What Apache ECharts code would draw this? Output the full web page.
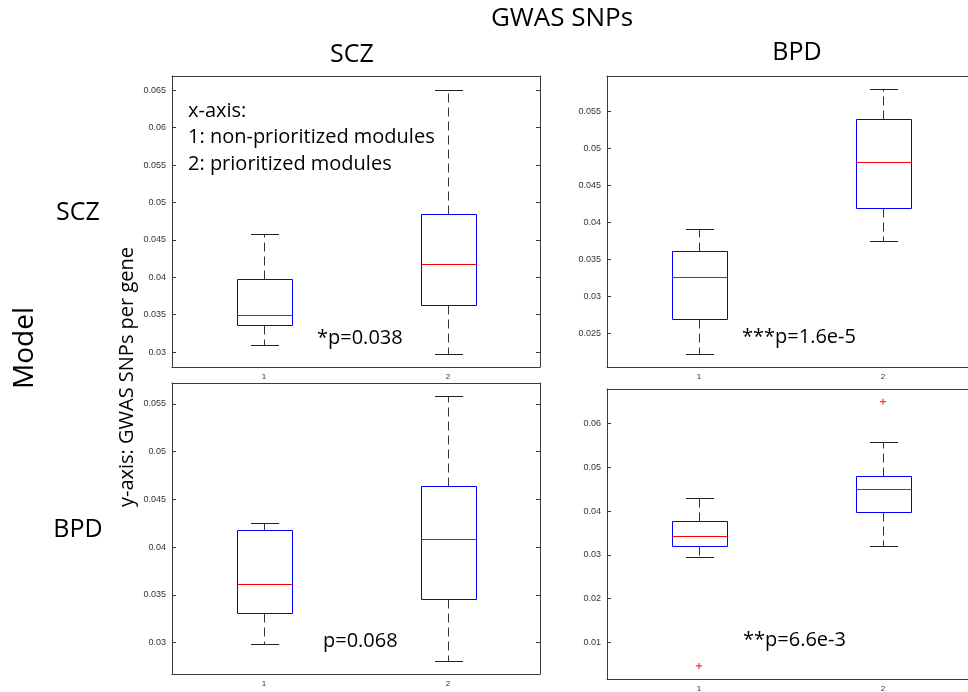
<!DOCTYPE html>
<html>
<head>
<meta charset="utf-8">
<script src="https://cdn.jsdelivr.net/npm/echarts@6/dist/echarts.min.js"></script>
<style>
html,body{margin:0;padding:0;background:#fff;}
#chart{width:968px;height:692px;}
</style>
</head>
<body>
<div id="chart"></div>
<script>
// ---- data ----
const categories = ['1', '2'];
// each box: [lowerWhisker, Q1, median, Q3, upperWhisker]
const boxSczSczModel = [[0.0309, 0.0336, 0.0350, 0.0397, 0.0458], [0.0297, 0.0363, 0.0418, 0.0484, 0.0650]];
const boxBpdSczModel = [[0.0222, 0.0270, 0.0327, 0.0362, 0.0391], [0.0375, 0.0420, 0.0482, 0.0540, 0.0581]];
const boxSczBpdModel = [[0.0298, 0.0331, 0.0361, 0.0418, 0.0425], [0.0281, 0.0346, 0.0409, 0.0464, 0.0558]];
const boxBpdBpdModel = [[0.0296, 0.0320, 0.0343, 0.0377, 0.0429], [0.0320, 0.0397, 0.0450, 0.0481, 0.0557]];
const outliersBpdBpdModel = [[0, 0.0046], [1, 0.0650]];
const pValues = ['*p=0.038', '***p=1.6e-5', 'p=0.068', '**p=6.6e-3'];
// y axis limits per panel
const yMins = [0.028, 0.0205, 0.0267, 0.0016];
const yMaxs = [0.0669, 0.0598, 0.0572, 0.0679];
const yTickSteps = [0.005, 0.005, 0.005, 0.01];

// ---- layout ----
const grids = [
  {left: 172, top: 76, right: 428, bottom: 325},
  {left: 607, top: 76, right: -7, bottom: 325},
  {left: 172, top: 383, right: 428, bottom: 18},
  {left: 607, top: 389, right: -7, bottom: 13}
];
const boxes = [boxSczSczModel, boxBpdSczModel, boxSczBpdModel, boxBpdBpdModel];

const axisColor = '#3a3a3a';
const labelColor = '#333';

function fmt(step) {
  return function (v) {
    const r = v / step;
    if (Math.abs(r - Math.round(r)) > 1e-6) return '';
    return String(+v.toFixed(4));
  };
}

function geom(api) {
  const xi = api.value(0);
  const band = api.size([1, 0])[0];
  const c = api.coord([xi, api.value(3)]);
  const cx = Math.round(c[0]) + 0.5;
  const yy = idx => Math.round(api.coord([xi, api.value(idx)])[1]) + 0.5;
  return {
    cx: cx, hw: band * 0.15, cw: band * 0.075,
    yLow: yy(1), yQ1: yy(2), yMed: yy(3), yQ3: yy(4), yHigh: yy(5)
  };
}

// four renderers: whiskers (dashed), caps, box, median
const renderers = [
  function (params, api) {
    const g = geom(api);
    return {type: 'group', children: [
      {type: 'line', shape: {x1: g.cx, y1: g.yQ3, x2: g.cx, y2: g.yHigh}, style: {stroke: '#333', lineWidth: 1, lineDash: [9, 5]}},
      {type: 'line', shape: {x1: g.cx, y1: g.yQ1, x2: g.cx, y2: g.yLow}, style: {stroke: '#333', lineWidth: 1, lineDash: [9, 5]}}
    ]};
  },
  function (params, api) {
    const g = geom(api);
    const a = Math.round(g.cx - g.cw), b = Math.round(g.cx + g.cw) + 1;
    return {type: 'group', children: [
      {type: 'line', shape: {x1: a, y1: g.yHigh, x2: b, y2: g.yHigh}, style: {stroke: '#222', lineWidth: 1, lineDash: null}},
      {type: 'line', shape: {x1: a, y1: g.yLow, x2: b, y2: g.yLow}, style: {stroke: '#222', lineWidth: 1, lineDash: null}}
    ]};
  },
  function (params, api) {
    const g = geom(api);
    const x0 = Math.round(g.cx - g.hw) + 0.5, x1 = Math.round(g.cx + g.hw) + 0.5;
    return {type: 'rect', shape: {x: x0, y: g.yQ3, width: x1 - x0, height: g.yQ1 - g.yQ3},
      style: {fill: null, stroke: '#0000ff', lineWidth: 1, lineDash: null}};
  },
  function (params, api) {
    const g = geom(api);
    const x0 = Math.round(g.cx - g.hw) + 0.5, x1 = Math.round(g.cx + g.hw) + 0.5;
    return {type: 'line', shape: {x1: x0, y1: g.yMed, x2: x1, y2: g.yMed},
      style: {stroke: '#ff0000', lineWidth: 1, lineDash: null}};
  }
];

const xAxes = [], yAxes = [], series = [];
grids.forEach((g, i) => {
  xAxes.push({
    gridIndex: i, type: 'category', data: categories, position: 'bottom',
    boundaryGap: true,
    axisLine: {lineStyle: {color: axisColor, width: 1}},
    axisTick: {inside: true, alignWithLabel: true, length: 4, lineStyle: {color: axisColor}},
    axisLabel: {color: labelColor, fontSize: 8, fontFamily: 'Liberation Sans', margin: 6},
    splitLine: {show: false}
  });
  xAxes.push({
    gridIndex: i, type: 'category', data: categories, position: 'top',
    boundaryGap: true,
    axisLine: {lineStyle: {color: axisColor, width: 1}},
    axisTick: {inside: true, alignWithLabel: true, length: 4, lineStyle: {color: axisColor}},
    axisLabel: {show: false},
    splitLine: {show: false}
  });
  const step = yTickSteps[i];
  yAxes.push({
    gridIndex: i, type: 'value', position: 'left',
    min: yMins[i], max: yMaxs[i], splitNumber: 8, minInterval: step, maxInterval: step,
    axisLine: {show: true, lineStyle: {color: axisColor, width: 1}},
    axisTick: {show: true, inside: true, length: 4, lineStyle: {color: axisColor}},
    axisLabel: {color: labelColor, fontSize: 9, fontFamily: 'Liberation Sans', margin: 6, formatter: fmt(step)},
    splitLine: {show: false}
  });
  yAxes.push({
    gridIndex: i, type: 'value', position: 'right',
    min: yMins[i], max: yMaxs[i], splitNumber: 8, minInterval: step, maxInterval: step,
    axisLine: {show: true, lineStyle: {color: axisColor, width: 1}},
    axisTick: {show: true, inside: true, length: 4, lineStyle: {color: axisColor}},
    axisLabel: {show: false},
    splitLine: {show: false}
  });

  renderers.forEach((r, ri) => {
    series.push({
      type: 'custom',
      xAxisIndex: i * 2, yAxisIndex: i * 2,
      coordinateSystem: 'cartesian2d',
      clip: false,
      z: 2 + ri,
      silent: true,
      encode: {x: 0, y: [1, 2, 3, 4, 5]},
      data: boxes[i].map((b, k) => [k].concat(b)),
      renderItem: r
    });
  });
});

series.push({
  type: 'scatter',
  xAxisIndex: 6, yAxisIndex: 6,
  symbol: 'path://M4 0H6V4H10V6H6V10H4V6H0V4H4Z',
  symbolSize: 6,
  z: 10,
  itemStyle: {color: '#ff0000'},
  data: outliersBpdBpdModel
});

const font = 'Open Sans';
function txt(text, x, y, size, opts) {
  return Object.assign({
    type: 'text', x: x, y: y, z: 100,
    style: Object.assign({text: text, fill: '#000', font: size + 'px "' + font + '"', textAlign: 'center', textVerticalAlign: 'middle'}, (opts && opts.style) || {})
  }, (opts && opts.el) || {});
}

const graphics = [
  txt('GWAS SNPs', 562, 19, 26),
  txt('SCZ', 352, 55, 25),
  txt('BPD', 797, 53, 25),
  txt('SCZ', 78, 213, 25),
  txt('BPD', 78, 530, 25),
  txt('Model', 25, 348, 28, {el: {rotation: Math.PI / 2}}),
  txt('y-axis: GWAS SNPs per gene', 127, 377, 20, {el: {rotation: Math.PI / 2}}),
  txt('x-axis:', 188, 111, 20, {style: {textAlign: 'left'}}),
  txt('1: non-prioritized modules', 188, 137, 20, {style: {textAlign: 'left'}}),
  txt('2: prioritized modules', 188, 164, 20, {style: {textAlign: 'left'}}),
  txt(pValues[0], 317, 338, 20, {style: {textAlign: 'left'}}),
  txt(pValues[1], 742, 337, 20, {style: {textAlign: 'left'}}),
  txt(pValues[2], 323, 641, 20, {style: {textAlign: 'left'}}),
  txt(pValues[3], 743, 640, 20, {style: {textAlign: 'left'}})
];

const chart = echarts.init(document.getElementById('chart'), null, {renderer: 'canvas'});
chart.setOption({
  animation: false,
  backgroundColor: '#fff',
  grid: grids.map(g => Object.assign({containLabel: false, outerBoundsMode: 'none'}, g)),
  xAxis: xAxes,
  yAxis: yAxes,
  series: series,
  graphic: graphics
});
</script>
</body>
</html>
